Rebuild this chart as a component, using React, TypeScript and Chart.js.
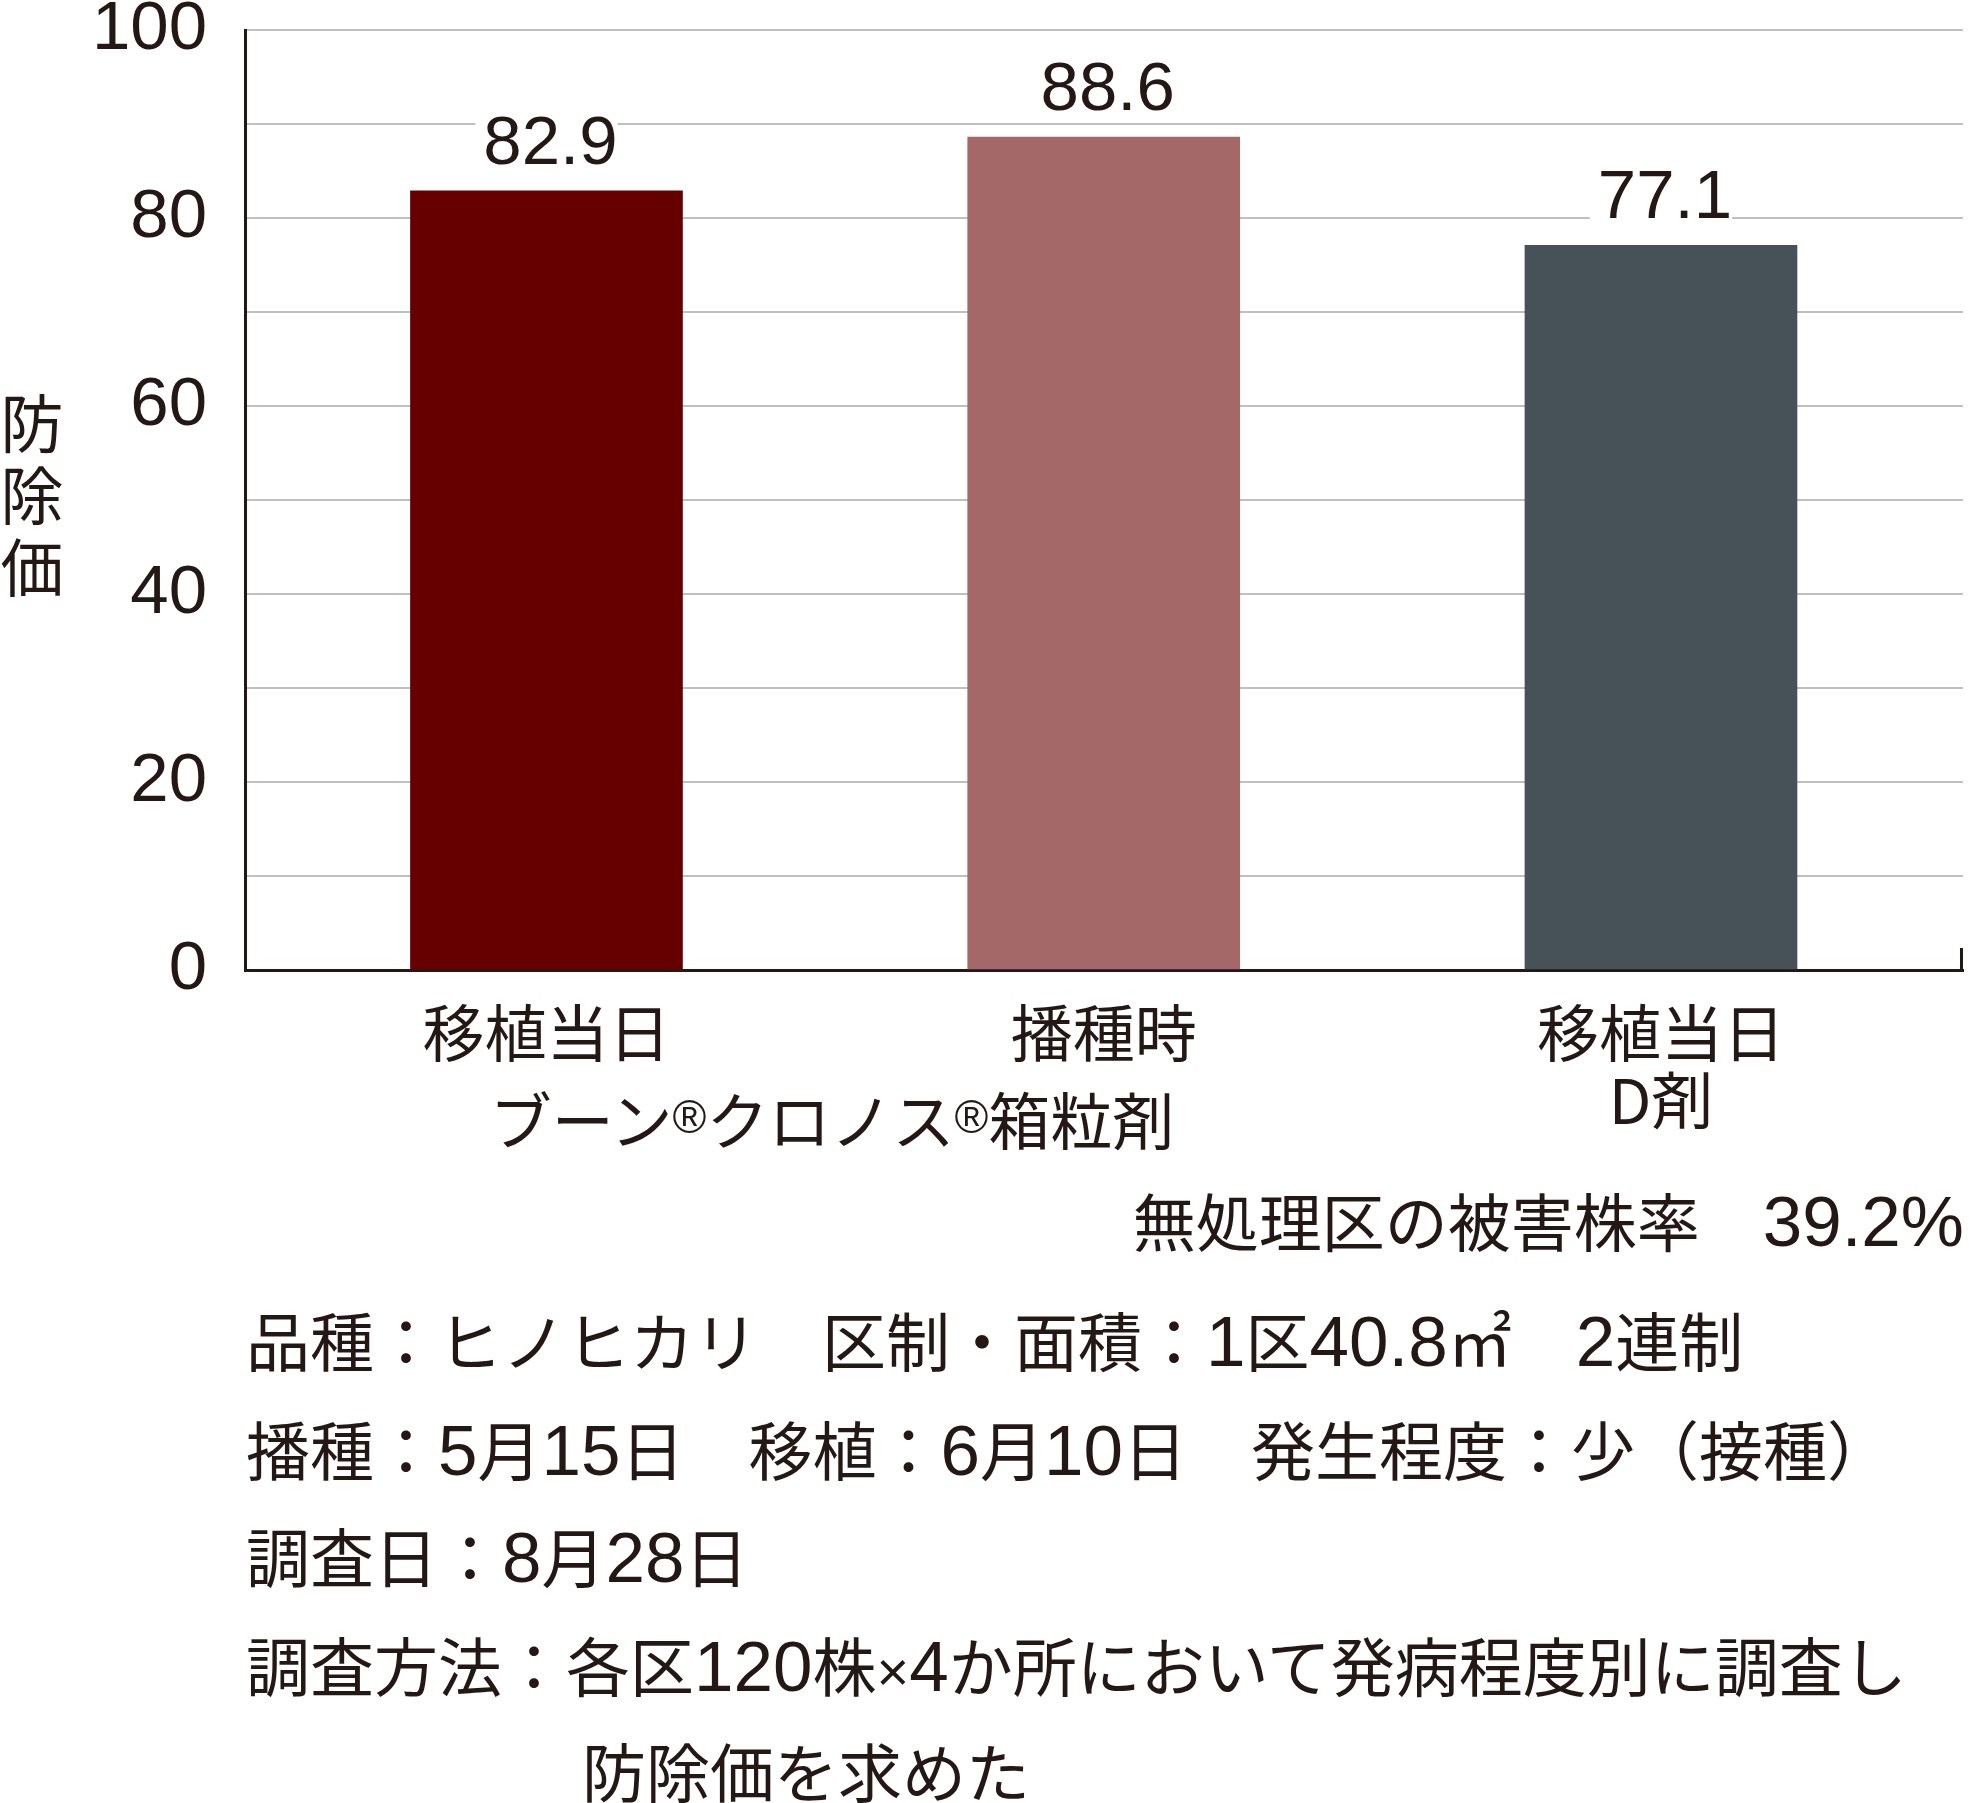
import { useEffect, useRef } from "react";
import { Chart, BarController, BarElement, LinearScale } from "chart.js";

Chart.register(BarController, BarElement, LinearScale);

const CATEGORIES = ["移植当日", "播種時", "移植当日"];
const SUBLABELS = ["", "", "D剤"];
const VALUES = [82.9, 88.6, 77.1];
const BAR_COLORS = ["#660000", "#A56868", "#465158"];
const Y_LABEL_STEP = 20;

const GROUP_PARTS = ["ブーン", "®", "クロノス", "®", "箱粒剤"];
const Y_TITLE = ["防", "除", "価"];
const UNTREATED_LABEL = "無処理区の被害株率　";
const UNTREATED_VALUE = "39.2%";
const NOTE_LINES = [
  "品種：ヒノヒカリ　区制・面積：1区40.8㎡　2連制",
  "播種：5月15日　移植：6月10日　発生程度：少（接種）",
  "調査日：8月28日",
  "調査方法：各区120株×4か所において発病程度別に調査し",
];
const NOTE_CONT = "防除価を求めた";

const TEXT = "#231815";
const NUM_FONT = "'Liberation Sans', Arial, sans-serif";
const JP_FONT = "'Noto Sans CJK JP', sans-serif";

const W = 1969;
const CANVAS_H = 1180;

const extras = {
  id: "extras",
  afterDatasetsDraw(chart: Chart) {
    const { ctx } = chart;
    const meta = chart.getDatasetMeta(0);
    ctx.save();
    ctx.font = `69px ${NUM_FONT}`;
    ctx.textAlign = "center";
    ctx.textBaseline = "alphabetic";
    meta.data.forEach((bar: any, i: number) => {
      const text = VALUES[i].toFixed(1);
      const w = ctx.measureText(text).width;
      const y = bar.y - 27;
      ctx.fillStyle = "#ffffff";
      ctx.fillRect(bar.x - w / 2 - 4, y - 54, w + 8, 57);
      ctx.fillStyle = TEXT;
      ctx.fillText(text, bar.x + 4, y);
    });
    ctx.restore();
  },
  afterDraw(chart: Chart) {
    const { ctx, chartArea } = chart;
    ctx.save();
    ctx.strokeStyle = TEXT;
    ctx.lineWidth = 3;
    ctx.beginPath();
    ctx.moveTo(chartArea.right - 1.5, chartArea.bottom);
    ctx.lineTo(chartArea.right - 1.5, chartArea.bottom - 22);
    ctx.stroke();
    ctx.restore();
  },
};

// digits and the times sign are set in the Latin face, like the original
function Runs({ text }: { text: string }) {
  const parts = text.split(/([0-9.]+|×)/);
  return (
    <>
      {parts.map((p, i) =>
        /^[0-9.]+$/.test(p) ? (
          <span key={i} style={{ fontFamily: NUM_FONT, fontSize: 71 }}>
            {p}
          </span>
        ) : p === "×" ? (
          <span key={i} style={{ fontFamily: NUM_FONT, fontSize: 56 }}>
            {p}
          </span>
        ) : (
          <span key={i}>{p}</span>
        ),
      )}
    </>
  );
}

export default function App() {
  const ref = useRef<HTMLCanvasElement | null>(null);
  const chartRef = useRef<Chart | null>(null);

  useEffect(() => {
    if (!ref.current) return;
    chartRef.current?.destroy();
    chartRef.current = new Chart(ref.current, {
      type: "bar",
      data: {
        datasets: [
          {
            data: VALUES.map((v, i) => ({ x: i, y: v })),
            backgroundColor: BAR_COLORS,
            barThickness: 272,
            borderWidth: 0,
          },
        ],
      },
      options: {
        responsive: false,
        animation: false,
        events: [],
        layout: { padding: { left: 0, top: 30, right: 6, bottom: 10 } },
        plugins: { legend: { display: false }, tooltip: { enabled: false } },
        scales: {
          x: {
            type: "linear",
            min: -0.541,
            max: 2.542,
            offset: false,
            z: 1,
            grid: { display: true, offset: false, color: "rgba(0,0,0,0)", drawTicks: false },
            border: { display: true, color: TEXT, width: 3 },
            afterBuildTicks: (s: any) => {
              s.ticks = CATEGORIES.map((_, i) => ({ value: i }));
            },
            afterFit: (s: any) => {
              s.height = 200;
              s.paddingLeft = 0;
              s.paddingRight = 0;
            },
            ticks: {
              padding: 30,
              autoSkip: false,
              maxRotation: 0,
              color: TEXT,
              font: { family: JP_FONT, size: 62, lineHeight: 1.08 },
              callback: (v: any) => {
                const i = Number(v);
                return SUBLABELS[i] ? [CATEGORIES[i], SUBLABELS[i]] : CATEGORIES[i];
              },
            },
          },
          y: {
            min: 0,
            max: 100,
            grid: { color: "#BFBFBF", lineWidth: 2, drawTicks: false },
            border: { display: true, color: TEXT, width: 3 },
            afterFit: (s: any) => {
              s.width = 245;
              s.paddingTop = 0;
              s.paddingBottom = 0;
            },
            ticks: {
              stepSize: 10,
              padding: 38,
              color: TEXT,
              font: { family: NUM_FONT, size: 69 },
              callback: (v: any) => (Number(v) % Y_LABEL_STEP === 0 ? String(v) : ""),
            },
          },
        },
      },
      plugins: [extras],
    } as any);
    return () => {
      chartRef.current?.destroy();
      chartRef.current = null;
    };
  }, []);

  const jp = { fontFamily: JP_FONT, color: TEXT, fontSize: 64, lineHeight: "64px", whiteSpace: "pre" as const };
  const noteTops = [1306, 1415, 1522, 1631];

  return (
    <div style={{ position: "absolute", left: 0, top: 0, width: W, height: 1803, background: "#fff" }}>
      <canvas ref={ref} width={W} height={CANVAS_H} style={{ position: "absolute", left: 0, top: 0 }} />
      <div
        style={{ ...jp, fontSize: 63, position: "absolute", left: 0, top: 384, width: 64, textAlign: "center", lineHeight: "72px" }}
      >
        {Y_TITLE.map((c, i) => (
          <div key={i}>{c}</div>
        ))}
      </div>
      <div
        style={{ ...jp, fontSize: 62, lineHeight: "62px", position: "absolute", left: 432, top: 1087, width: 800, textAlign: "center" }}
      >
        {GROUP_PARTS.map((p, i) =>
          p === "®" ? (
            <span key={i} style={{ fontFamily: NUM_FONT, fontSize: 46, position: "relative", top: -12 }}>
              {p}
            </span>
          ) : (
            <span key={i}>{p}</span>
          ),
        )}
      </div>
      <div style={{ ...jp, fontSize: 63, position: "absolute", right: 5, top: 1187 }}>
        {UNTREATED_LABEL}
        <span style={{ fontFamily: NUM_FONT, fontSize: 71 }}>{UNTREATED_VALUE}</span>
      </div>
      {NOTE_LINES.map((line, i) => (
        <div key={i} style={{ ...jp, position: "absolute", left: 246, top: noteTops[i] }}>
          <Runs text={line} />
        </div>
      ))}
      <div style={{ ...jp, position: "absolute", left: 582, top: 1737 }}>{NOTE_CONT}</div>
    </div>
  );
}
